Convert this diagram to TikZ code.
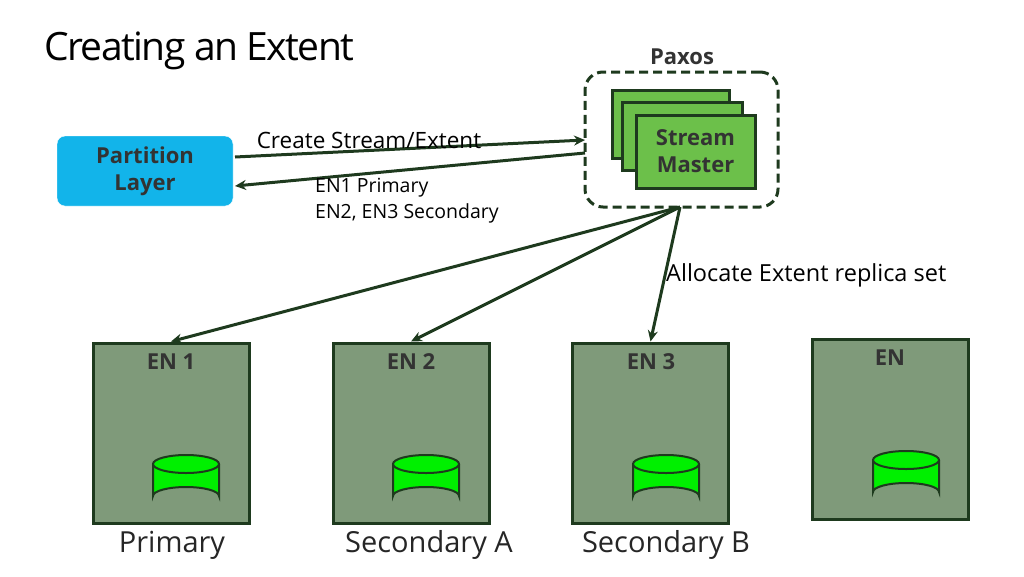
\documentclass[tikz,border=0pt]{standalone}
\usepackage{fontspec}
\setmainfont{Open Sans}
\usetikzlibrary{arrows.meta}
\definecolor{dk}{HTML}{1E3A1E}
\definecolor{sm}{HTML}{6CC04A}
\definecolor{en}{HTML}{7F9A7A}
\definecolor{pl}{HTML}{12B4EA}
\definecolor{cyl}{HTML}{00F000}
\begin{document}
\begin{tikzpicture}[x=1pt,y=-1pt,
  arr/.style={draw=dk,line width=3pt,-{Stealth[length=11pt,width=10pt]}},
  smbox/.style={draw=dk,line width=3pt,fill=sm},
  enbox/.style={draw=dk,line width=3pt,fill=en,minimum width=156pt,minimum height=180pt,inner sep=0pt},
  enl/.style={font=\fontsize{22}{22}\selectfont\bfseries,text=black!80},
  bl/.style={font=\fontsize{29}{29}\selectfont,text=black!85}]
\useasboundingbox (0,0) rectangle (1024,576);
\node[anchor=base west,font=\fontsize{39}{39}\selectfont\addfontfeature{LetterSpace=-4},inner sep=0pt] (title) at (44,60) {Creating an Extent};
\node[draw=white,fill=pl,rounded corners=8pt,minimum width=176pt,minimum height=70pt,align=center,font=\fontsize{22}{27}\selectfont\bfseries,text=black!80] (pl) at (145,171) {Partition\\Layer};
\node[draw=dk,dashed,dash pattern=on 9pt off 5pt,line width=3pt,rounded corners=18pt,minimum width=193pt,minimum height=135pt] (px) at (681.5,139.5) {};
\node[font=\fontsize{22}{22}\selectfont\bfseries,text=black!80] (pxl) at (682,57) {Paxos};
\draw[smbox] (612,90) rectangle (729,158);
\draw[smbox] (622,102) rectangle (742,170);
\node[smbox,minimum width=119pt,minimum height=73pt,align=center,font=\fontsize{22}{27}\selectfont\bfseries,text=black!80] (sm) at (695.5,151.5) {Stream\\Master};
\coordinate (a1) at (235,157);
\coordinate (a2) at (585,140);
\coordinate (b1) at (585,153);
\coordinate (b2) at (235,186);
\draw[arr] (a1) -- (a2);
\draw[arr] (b1) -- (b2);
\node[font=\fontsize{22.5}{22.5}\selectfont,anchor=base] (cl) at (369,148) {Create Stream/Extent};
\node[font=\fontsize{19.5}{26}\selectfont,anchor=north west,align=left,inner sep=0pt] (rl) at (315,178) {EN1 Primary\\EN2, EN3 Secondary};
\node[enbox] (e1) at (171,433) {};
\node[enbox] (e2) at (411,433) {};
\node[enbox] (e3) at (650.5,433) {};
\node[enbox] (e4) at (890,429) {};
\node[enl] at (171,362) {EN 1};
\node[enl] at (411,362) {EN 2};
\node[enl] at (651,362) {EN 3};
\node[enl] at (890,358) {EN};
\coordinate (src) at (680,207);
\draw[arr] (src) -- (e1.north);
\draw[arr] (src) -- (e2.north);
\draw[arr] (src) -- (e3.north);
\node[font=\fontsize{23.5}{23.5}\selectfont,anchor=base west,inner sep=0pt] (al) at (666,281) {Allocate Extent replica set};
\foreach \cx/\cy in {186/464, 426/464, 666/464, 906/460}{
  \draw[dk,line width=2pt,fill=cyl] (\cx-33,\cy) -- (\cx-33,\cy+32) arc[start angle=180,end angle=360,x radius=33,y radius=9] -- (\cx+33,\cy) ;
  \draw[dk,line width=2pt,fill=cyl] (\cx,\cy) ellipse[x radius=33,y radius=9];
}
\node[bl] (p1) at (172,545) {Primary};
\node[bl] (p2) at (429,545) {Secondary A};
\node[bl] (p3) at (666,545) {Secondary B};
\end{tikzpicture}
\end{document}
